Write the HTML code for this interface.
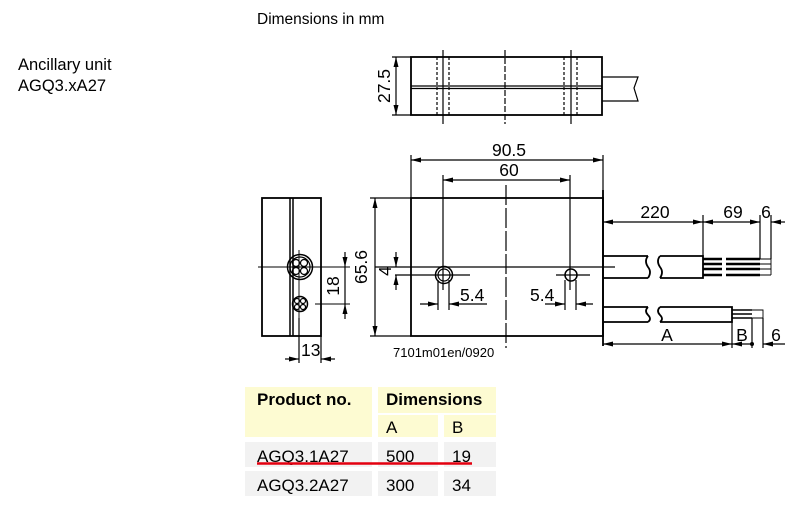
<!DOCTYPE html>
<html><head><meta charset="utf-8"><style>
body{margin:0;background:#fff;width:797px;height:505px;overflow:hidden;font-family:"Liberation Sans",Arial,sans-serif}
svg{position:absolute;left:0;top:0}
</style></head><body>
<svg width="797" height="505" viewBox="0 0 797 505" font-family="Liberation Sans, Arial, sans-serif">
<defs>
<marker id="a" viewBox="0 0 10 6" refX="10" refY="3" markerWidth="10" markerHeight="6" orient="auto-start-reverse" markerUnits="userSpaceOnUse"><path d="M0,0.5 L10,3 L0,5.5z" fill="#000"/></marker>
</defs>
<text x="257" y="24" font-size="15.5">Dimensions in mm</text>
<text x="18" y="70" font-size="16.5">Ancillary unit</text>
<text x="18" y="91" font-size="16.5">AGQ3.xA27</text>

<g stroke="#000" fill="none" stroke-width="1.2">
<!-- top view -->
<rect x="411" y="57" width="191" height="58" stroke-width="1.8"/>
<line x1="411" y1="86" x2="602" y2="86"/><line x1="411" y1="88.5" x2="602" y2="88.5"/>
<line x1="443" y1="50" x2="443" y2="124"/><line x1="571" y1="50" x2="571" y2="124"/>
<line x1="505" y1="50" x2="505" y2="124" stroke-dasharray="6,2"/>
<line x1="437" y1="57" x2="437" y2="115" stroke-dasharray="3,2"/><line x1="449" y1="57" x2="449" y2="115" stroke-dasharray="3,2"/>
<line x1="564" y1="57" x2="564" y2="115" stroke-dasharray="3,2"/><line x1="577" y1="57" x2="577" y2="115" stroke-dasharray="3,2"/>
<path d="M602,77 H638 L634,88 L638,101 H602"/>
<line x1="396" y1="57" x2="396" y2="115" marker-start="url(#a)" marker-end="url(#a)"/>
<line x1="392" y1="57" x2="411" y2="57"/><line x1="392" y1="115" x2="411" y2="115"/>

<!-- side view -->
<rect x="262" y="198" width="59" height="138" stroke-width="1.8"/>
<line x1="290" y1="198" x2="290" y2="336" stroke-width="1.5"/><line x1="293" y1="198" x2="293" y2="336" stroke-width="1.5"/>
<circle cx="300" cy="267" r="12.5" stroke-width="1.5"/><circle cx="300" cy="267" r="10"/>
<circle cx="296" cy="263" r="3.5"/><circle cx="304" cy="263" r="3.5"/><circle cx="296" cy="271" r="3.5"/><circle cx="304" cy="271" r="3.5"/>
<circle cx="300" cy="304" r="7.5" stroke-width="1.5"/><circle cx="297" cy="301" r="2.5"/><circle cx="303" cy="301" r="2.5"/><circle cx="297" cy="307" r="2.5"/><circle cx="303" cy="307" r="2.5"/>
<line x1="258" y1="267" x2="330" y2="267" stroke-width="0.9"/>
<line x1="299" y1="250" x2="299" y2="325" stroke-width="0.9"/>
<line x1="315" y1="304" x2="350" y2="304" stroke-width="0.9"/>
<line x1="313" y1="267" x2="350" y2="267" stroke-width="0.9"/>
<line x1="345" y1="252" x2="345" y2="267" marker-end="url(#a)"/>
<line x1="345" y1="319" x2="345" y2="304" marker-end="url(#a)"/>
<line x1="345" y1="267" x2="345" y2="304"/>
<line x1="299" y1="318" x2="299" y2="363"/><line x1="321" y1="336" x2="321" y2="363"/>
<line x1="285" y1="359" x2="299" y2="359" marker-end="url(#a)"/>
<line x1="335" y1="359" x2="321" y2="359" marker-end="url(#a)"/>

<!-- main view -->
<rect x="411" y="198" width="192" height="138" stroke-width="1.8"/>
<line x1="411" y1="155" x2="411" y2="198"/><line x1="603" y1="155" x2="603" y2="198"/>
<line x1="411" y1="160" x2="603" y2="160" marker-start="url(#a)" marker-end="url(#a)"/>
<line x1="443" y1="175" x2="443" y2="290"/><line x1="570" y1="175" x2="570" y2="290"/>
<line x1="443" y1="180" x2="570" y2="180" marker-start="url(#a)" marker-end="url(#a)"/>
<line x1="506" y1="185" x2="506" y2="348" stroke-dasharray="20,3"/>
<line x1="375" y1="267" x2="615" y2="267"/>
<line x1="370" y1="198" x2="411" y2="198"/><line x1="370" y1="336" x2="411" y2="336"/>
<line x1="375" y1="198" x2="375" y2="336" marker-start="url(#a)" marker-end="url(#a)"/>
<circle cx="444" cy="275" r="8.5" stroke-width="1.5"/><circle cx="444" cy="275" r="6"/>
<circle cx="571" cy="275" r="6" stroke-width="1.5"/>
<line x1="395" y1="275" x2="470" y2="275"/><line x1="556" y1="275" x2="590" y2="275"/>
<line x1="396" y1="252" x2="396" y2="267" marker-end="url(#a)"/>
<line x1="396" y1="290" x2="396" y2="275" marker-end="url(#a)"/>
<line x1="438" y1="280" x2="438" y2="310"/><line x1="449" y1="280" x2="449" y2="310"/>
<line x1="420" y1="304" x2="438" y2="304" marker-end="url(#a)"/>
<line x1="487" y1="304" x2="449" y2="304" marker-end="url(#a)"/>
<line x1="565" y1="280" x2="565" y2="310"/><line x1="576" y1="280" x2="576" y2="310"/>
<line x1="545" y1="304" x2="565" y2="304" marker-end="url(#a)"/>
<line x1="593" y1="304" x2="576" y2="304" marker-end="url(#a)"/>

<!-- cables -->
<line x1="603" y1="190" x2="603" y2="346" stroke-width="1.8"/>
<path d="M603,256 H648 M603,278 H648 M660,256 H703 V278 H660 M648,256 q-4,5 0,11 q4,5 0,11 M660,256 q-4,5 0,11 q4,5 0,11" stroke-width="1.8"/>
<g stroke-width="2.5">
<line x1="703" y1="259" x2="722" y2="259"/><line x1="703" y1="264" x2="722" y2="264"/><line x1="703" y1="269" x2="722" y2="269"/><line x1="703" y1="275" x2="722" y2="275"/>
<line x1="726" y1="259" x2="760" y2="259"/><line x1="726" y1="264" x2="760" y2="264"/><line x1="726" y1="269" x2="760" y2="269"/><line x1="726" y1="275" x2="760" y2="275"/>
</g>
<path d="M760,259 H771 M760,264 H771 M760,269 H771 M760,275 H771 M771,259 V275" stroke-width="0.9"/>
<line x1="703" y1="215" x2="703" y2="256"/><line x1="760" y1="215" x2="760" y2="259"/><line x1="771" y1="215" x2="771" y2="259"/>
<line x1="603" y1="222" x2="703" y2="222" marker-start="url(#a)" marker-end="url(#a)"/>
<line x1="703" y1="222" x2="760" y2="222" marker-start="url(#a)" marker-end="url(#a)"/>
<line x1="785" y1="222" x2="771" y2="222" marker-end="url(#a)"/>
<path d="M603,307 H648 M603,322 H648 M660,307 H732 V322 H660 M648,307 q-4,4 0,8 q4,4 0,7 M660,307 q-4,4 0,8 q4,4 0,7" stroke-width="1.8"/>
<path d="M732,310 H752 M732,314 H752 M732,318 H752" stroke-width="1.5"/>
<path d="M752,310 H763 V318 H752" stroke-width="0.9"/>
<line x1="732" y1="322" x2="732" y2="348"/><line x1="752" y1="318" x2="752" y2="348"/><line x1="763" y1="318" x2="763" y2="348"/>
<line x1="603" y1="344" x2="732" y2="344" marker-start="url(#a)" marker-end="url(#a)"/>
<line x1="732" y1="344" x2="752" y2="344" marker-start="url(#a)"/>
<line x1="785" y1="344" x2="763" y2="344" marker-end="url(#a)"/>
</g>
<circle cx="752" cy="344" r="2" fill="#000"/>

<g font-size="17.5" fill="#000">
<text x="384" y="86" transform="rotate(-90 384 86)" text-anchor="middle" dy="6">27.5</text>
<text x="509" y="156" text-anchor="middle">90.5</text>
<text x="509" y="176" text-anchor="middle">60</text>
<text x="361" y="267" transform="rotate(-90 361 267)" text-anchor="middle" dy="6">65.6</text>
<text x="385" y="271" transform="rotate(-90 385 271)" text-anchor="middle" dy="6">4</text>
<text x="333" y="286" transform="rotate(-90 333 286)" text-anchor="middle" dy="6">18</text>
<text x="460" y="301">5.4</text>
<text x="530" y="301">5.4</text>
<text x="301" y="356">13</text>
<text x="655" y="218" text-anchor="middle">220</text>
<text x="733" y="218" text-anchor="middle">69</text>
<text x="766" y="218" text-anchor="middle">6</text>
<text x="667" y="341" text-anchor="middle">A</text>
<text x="742" y="341" text-anchor="middle">B</text>
<text x="776" y="341" text-anchor="middle">6</text>
</g>
<text x="393" y="357" font-size="13">7101m01en/0920</text>

<!-- table -->
<rect x="245" y="387" width="127" height="50" fill="#fdfbd2"/>
<rect x="378" y="387" width="118" height="26" fill="#fdfbd2"/>
<rect x="378" y="415" width="60" height="22" fill="#fdfbd2"/>
<rect x="444" y="415" width="52" height="22" fill="#fdfbd2"/>
<rect x="245" y="442" width="127" height="25" fill="#f2f2f2"/>
<rect x="378" y="442" width="60" height="25" fill="#f2f2f2"/>
<rect x="444" y="442" width="52" height="25" fill="#f2f2f2"/>
<rect x="245" y="471" width="127" height="25" fill="#f2f2f2"/>
<rect x="378" y="471" width="60" height="25" fill="#f2f2f2"/>
<rect x="444" y="471" width="52" height="25" fill="#f2f2f2"/>
<g font-size="17" fill="#000">
<text x="257" y="405" font-weight="bold">Product no.</text>
<text x="386" y="405" font-weight="bold">Dimensions</text>
<text x="386" y="433">A</text>
<text x="452" y="433">B</text>
<text x="257" y="462">AGQ3.1A27</text>
<text x="386" y="462">500</text>
<text x="452" y="462">19</text>
<text x="257" y="491">AGQ3.2A27</text>
<text x="386" y="491">300</text>
<text x="452" y="491">34</text>
</g>
<line x1="257" y1="463.5" x2="472" y2="463.5" stroke="#e3000f" stroke-width="2.5"/>
</svg>
</body></html>
